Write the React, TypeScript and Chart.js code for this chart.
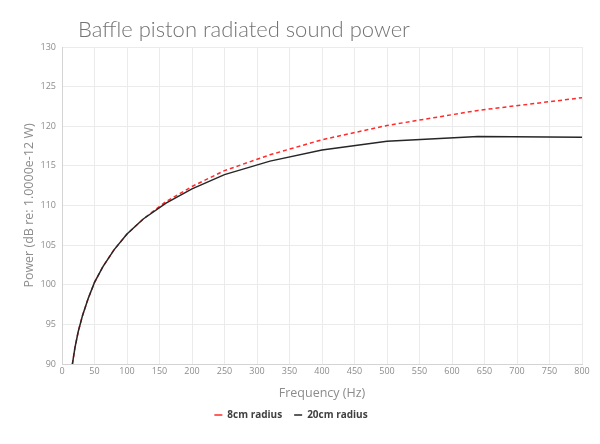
import React, { useEffect, useRef } from "react";
import { Chart, registerables } from "chart.js";

Chart.register(...registerables);

const TITLE = "Baffle piston radiated sound power";
const X_TITLE = "Frequency (Hz)";
const Y_TITLE = "Power (dB re: 1.0000e-12 W)";

const frequencies = [16, 20, 25, 31.5, 40, 50, 63, 80, 100, 125, 160, 200, 250, 320, 400, 500, 640, 800];
const radius8cm = [90, 92.1, 94.1, 96.1, 98.2, 100.3, 102.3, 104.4, 106.4, 108.3, 110.5, 112.4, 114.4, 116.4, 118.3, 120.1, 122.0, 123.6];
const radius20cm = [90, 92.1, 94.1, 96.1, 98.2, 100.3, 102.3, 104.4, 106.4, 108.3, 110.3, 112.1, 113.9, 115.6, 117.0, 118.1, 118.7, 118.6];
const seriesLabels = ["8cm radius", "20cm radius"];

const X_MIN = 0, X_MAX = 800, X_STEP = 50;
const Y_MIN = 90, Y_MAX = 130, Y_STEP = 5;

const titlePlugin = {
  id: "customTitle",
  afterDraw(chart: any) {
    const ctx = chart.ctx;
    ctx.save();
    ctx.font = "300 22px Lato, 'Open Sans', sans-serif";
    ctx.fillStyle = "#737373";
    ctx.textBaseline = "alphabetic";
    ctx.textAlign = "left";
    ctx.fillText(TITLE, 78, 37);
    ctx.restore();
  },
};

export default function App() {
  const ref = useRef<HTMLCanvasElement | null>(null);
  useEffect(() => {
    if (!ref.current) return;
    const toPts = (ys: number[]) => frequencies.map((f, i) => ({ x: f, y: ys[i] }));
    const chart = new Chart(ref.current, {
      type: "line",
      data: {
        datasets: [
          {
            label: seriesLabels[0],
            data: toPts(radius8cm),
            borderColor: "#ff2a2a",
            backgroundColor: "#ff2a2a",
            borderWidth: 1.5,
            borderDash: [4, 3],
            pointRadius: 0,
            tension: 0,
            order: 1,
          },
          {
            label: seriesLabels[1],
            data: toPts(radius20cm),
            borderColor: "#262626",
            backgroundColor: "#262626",
            borderWidth: 1.5,
            pointRadius: 0,
            tension: 0,
            order: 0,
          },
        ],
      },
      options: {
        animation: false,
        responsive: true,
        maintainAspectRatio: false,
        layout: { padding: { left: 0, right: 18, top: 47, bottom: 14 } },
        plugins: {
          title: { display: false },
          tooltip: { enabled: false },
          legend: {
            position: "bottom",
            labels: {
              usePointStyle: true,
              pointStyle: "line",
              pointStyleWidth: 8,
              boxHeight: 8,
              padding: 12,
              color: "#404040",
              font: { family: "'Open Sans', sans-serif", size: 10, weight: "bold" },
              sort: (a: any, b: any) => a.datasetIndex - b.datasetIndex,
            },
          },
        },
        scales: {
          x: {
            type: "linear",
            min: X_MIN,
            max: X_MAX,
            afterFit: (s: any) => { s.height = 34; },
            ticks: {
              stepSize: X_STEP,
              color: "#8c8c8c",
              font: { family: "'Open Sans', sans-serif", size: 9 },
              padding: 2,
              maxRotation: 0,
            },
            grid: { color: "#ebebeb", lineWidth: 1, drawTicks: false },
            border: { color: "#d4d4d4" },
            title: {
              display: true,
              text: X_TITLE,
              color: "#8c8c8c",
              font: { family: "'Open Sans', sans-serif", size: 12.5 },
              padding: { top: 0, bottom: -2.5 },
            },
          },
          y: {
            type: "linear",
            min: Y_MIN,
            max: Y_MAX,
            afterFit: (s: any) => { s.width = 62; },
            ticks: {
              stepSize: Y_STEP,
              color: "#8c8c8c",
              font: { family: "'Open Sans', sans-serif", size: 9 },
              padding: 6,
            },
            grid: { color: "#ebebeb", lineWidth: 1, drawTicks: false },
            border: { color: "#d4d4d4" },
            title: {
              display: true,
              text: Y_TITLE,
              color: "#8c8c8c",
              font: { family: "'Open Sans', sans-serif", size: 12.5 },
              padding: { top: 21.5, bottom: 0 },
            },
          },
        },
      },
      plugins: [titlePlugin],
    });
    return () => chart.destroy();
  }, []);
  return (
    <div style={{ position: "fixed", left: 0, top: 0, width: 600, height: 444, background: "#fff" }}>
      <canvas ref={ref} />
    </div>
  );
}
